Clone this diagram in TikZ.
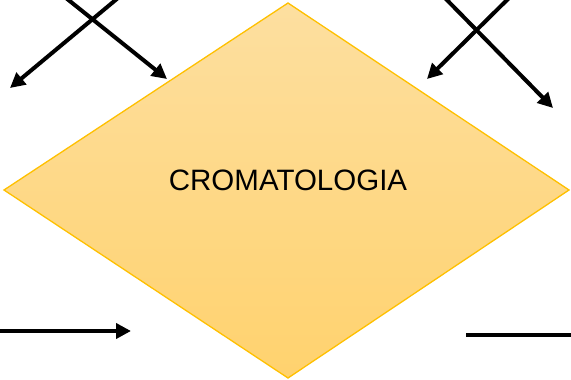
\documentclass[tikz,border=0pt]{standalone}
\usepackage{fontspec}
\setmainfont{Liberation Sans}
\usetikzlibrary{arrows.meta}
\definecolor{edgegold}{RGB}{255,192,0}
\definecolor{filltop}{RGB}{253,223,160}
\definecolor{fillbottom}{RGB}{255,210,110}
\begin{document}
\begin{tikzpicture}[x=1pt,y=-1pt,
  flow/.style={line width=4pt,-{Triangle[length=15pt,width=15pt]}},
  plain/.style={line width=4pt},
  diamondshape/.style={draw=edgegold,line width=1.3pt,top color=filltop,bottom color=fillbottom}]
\useasboundingbox (0,0) rectangle (571,380);

% central diamond
\coordinate (dt) at (288,3);
\coordinate (dr) at (569,190);
\coordinate (db) at (288,378);
\coordinate (dl) at (4,190);
\path[diamondshape] (dt) -- (dr) -- (db) -- (dl) -- cycle;
\node[font=\fontsize{29.5}{33}\selectfont,inner sep=0pt] (label) at (288,180) {CROMATOLOGIA};

% crossing arrows, upper left
\coordinate (a1s) at (118,-2);
\coordinate (a1e) at (10,88);
\coordinate (a2s) at (66,-2);
\coordinate (a2e) at (167,79);
\draw[flow] (a1s) -- (a1e);
\draw[flow] (a2s) -- (a2e);

% crossing arrows, upper right
\coordinate (b1s) at (509,-2);
\coordinate (b1e) at (427,79);
\coordinate (b2s) at (445,-2);
\coordinate (b2e) at (553,108);
\draw[flow] (b1s) -- (b1e);
\draw[flow] (b2s) -- (b2e);

% lower horizontal strokes
\coordinate (c1s) at (0,331);
\coordinate (c1e) at (131,331);
\draw[flow] (c1s) -- (c1e);
\coordinate (c2s) at (466,335);
\coordinate (c2e) at (571,335);
\draw[plain] (c2s) -- (c2e);
\end{tikzpicture}
\end{document}
